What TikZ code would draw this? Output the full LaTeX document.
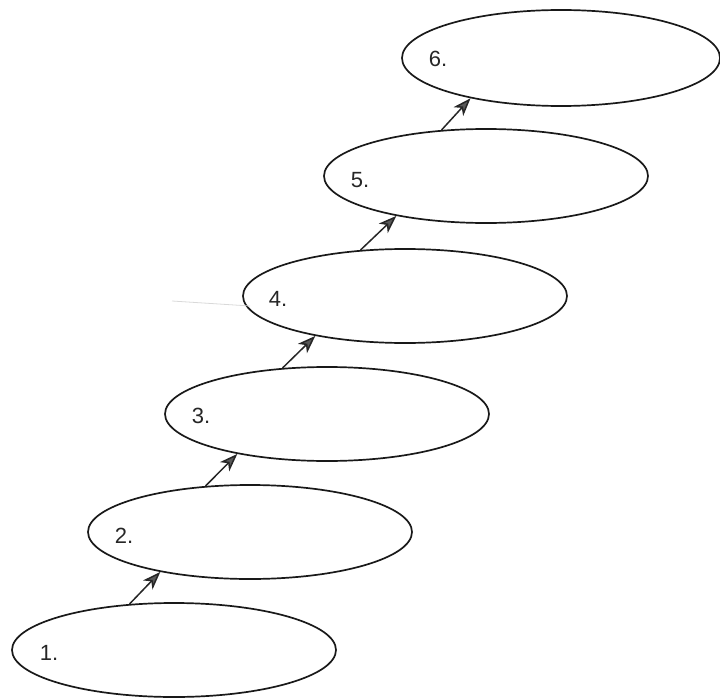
\documentclass[tikz,border=0pt]{standalone}
\usepackage{fontspec}
\setmainfont{Liberation Sans}
\usetikzlibrary{shapes.geometric,arrows.meta}
\begin{document}
\begin{tikzpicture}[x=1pt,y=-1pt,
  stepell/.style={draw=black!90,line width=1.7pt,ellipse,inner sep=0pt,minimum width=324pt,minimum height=94pt},
  steplabel/.style={font=\fontsize{22}{26}\selectfont,text=black!85,inner sep=0pt},
  uparrow/.style={draw=black!85,line width=1.5pt,-{Stealth[length=18pt,width=13pt,inset=5pt,fill=black!65]}}]
\useasboundingbox (0,0) rectangle (720,698);
\node[stepell] (e1) at (174,650) {};
\node[stepell] (e2) at (250,532) {};
\node[stepell] (e3) at (327,414) {};
\node[stepell] (e4) at (405,296) {};
\node[stepell] (e5) at (486,176) {};
\node[stepell,minimum width=318pt,minimum height=96pt] (e6) at (561,58) {};
\node[steplabel] (t1) at (49,653) {1.};
\node[steplabel] (t2) at (124,536) {2.};
\node[steplabel] (t3) at (201,416) {3.};
\node[steplabel] (t4) at (278,299) {4.};
\node[steplabel] (t5) at (360,180) {5.};
\node[steplabel] (t6) at (438,59) {6.};
\draw[uparrow] (e1.134) -- (e2.204);
\draw[uparrow] (e2.134) -- (e3.204);
\draw[uparrow] (e3.134) -- (e4.204);
\draw[uparrow] (e4.134) -- (e5.204);
\draw[uparrow] (e5.134) -- (e6.204);
\coordinate (s1) at (172,301);
\coordinate (s2) at (250,306);
\draw[black!15,line width=0.8pt] (s1) -- (s2);
\end{tikzpicture}
\end{document}
